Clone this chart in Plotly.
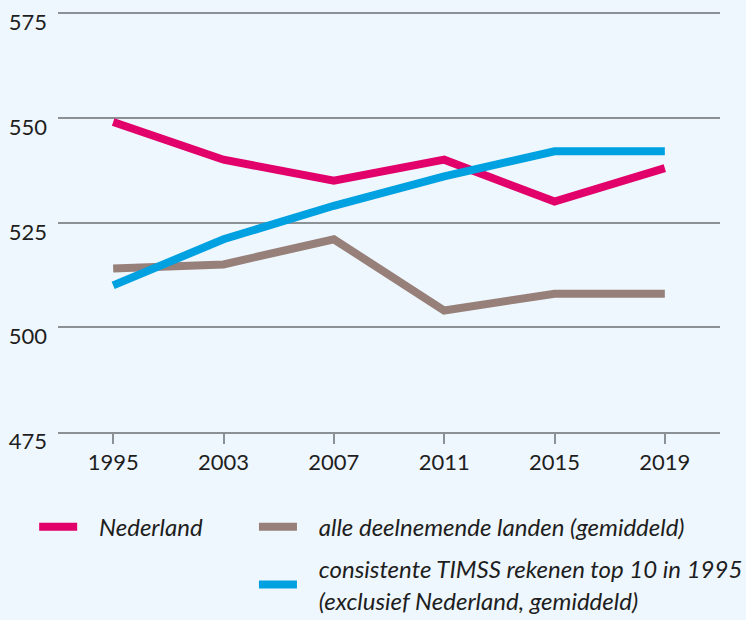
import plotly.graph_objects as go

years = ["1995", "2003", "2007", "2011", "2015", "2019"]
nederland = [549, 540, 535, 540, 530, 538]
alle_landen = [514, 515, 521, 504, 508, 508]
top10 = [510, 521, 529, 536, 542, 542]
y_ticks = [475, 500, 525, 550, 575]

FONT = "Lato, Roboto, Arial, sans-serif"
BG = "#eef7fd"
GRID = "#8c9196"
TEXT = "#1e1e1e"
PAD = "\u00a0\u00a0\u00a0"  # extra room between legend line and text

fig = go.Figure()

fig.add_trace(go.Scatter(
    x=years, y=nederland, mode="lines", name=PAD + "Nederland",
    line=dict(color="#e2006b", width=8), legend="legend", legendgroup="nl",
))
fig.add_trace(go.Scatter(
    x=years, y=alle_landen, mode="lines",
    name=PAD + "alle deelnemende landen (gemiddeld)",
    line=dict(color="#968079", width=8), legend="legend2", legendgroup="alle",
))
fig.add_trace(go.Scatter(
    x=years, y=top10, mode="lines",
    name=PAD + "consistente TIMSS rekenen top 10 in 1995<br>" + PAD + "(exclusief Nederland, gemiddeld)",
    line=dict(color="#00a1e1", width=8), legend="legend2", legendgroup="top",
))

legend_font = dict(family=FONT, size=24, color=TEXT, style="italic")

fig.update_layout(
    width=746, height=620,
    plot_bgcolor=BG, paper_bgcolor=BG,
    margin=dict(l=58, r=26, t=12, b=188, autoexpand=False),
    font=dict(family=FONT, size=22, color=TEXT),
    showlegend=True,
    xaxis=dict(
        type="category", range=[-0.5, 5.5],
        showgrid=False, showline=True, linecolor=GRID, linewidth=1.5,
        ticks="outside", ticklen=10, tickcolor=GRID, tickwidth=1.5,
        tickangle=0,
        tickfont=dict(family=FONT, size=22, color=TEXT),
    ),
    yaxis=dict(
        range=[475, 575.25], tickvals=y_ticks,
        showgrid=True, gridcolor=GRID, gridwidth=1.5,
        zeroline=False, showline=False,
        ticklabelposition="outside bottom",
        ticklabelstandoff=10, ticklabelshift=-6,
        tickfont=dict(family=FONT, size=22, color=TEXT),
    ),
    legend=dict(
        x=-0.036, y=-0.173, itemwidth=38,
        xanchor="left", yanchor="top", bgcolor="rgba(0,0,0,0)",
        font=legend_font, tracegroupgap=0,
    ),
    legend2=dict(
        x=0.296, y=-0.173, itemwidth=38,
        xanchor="left", yanchor="top", bgcolor="rgba(0,0,0,0)",
        font=legend_font, tracegroupgap=8,
    ),
)

fig.write_html("out.html", config={"displayModeBar": False},
               post_script="document.body.style.margin='0';")
